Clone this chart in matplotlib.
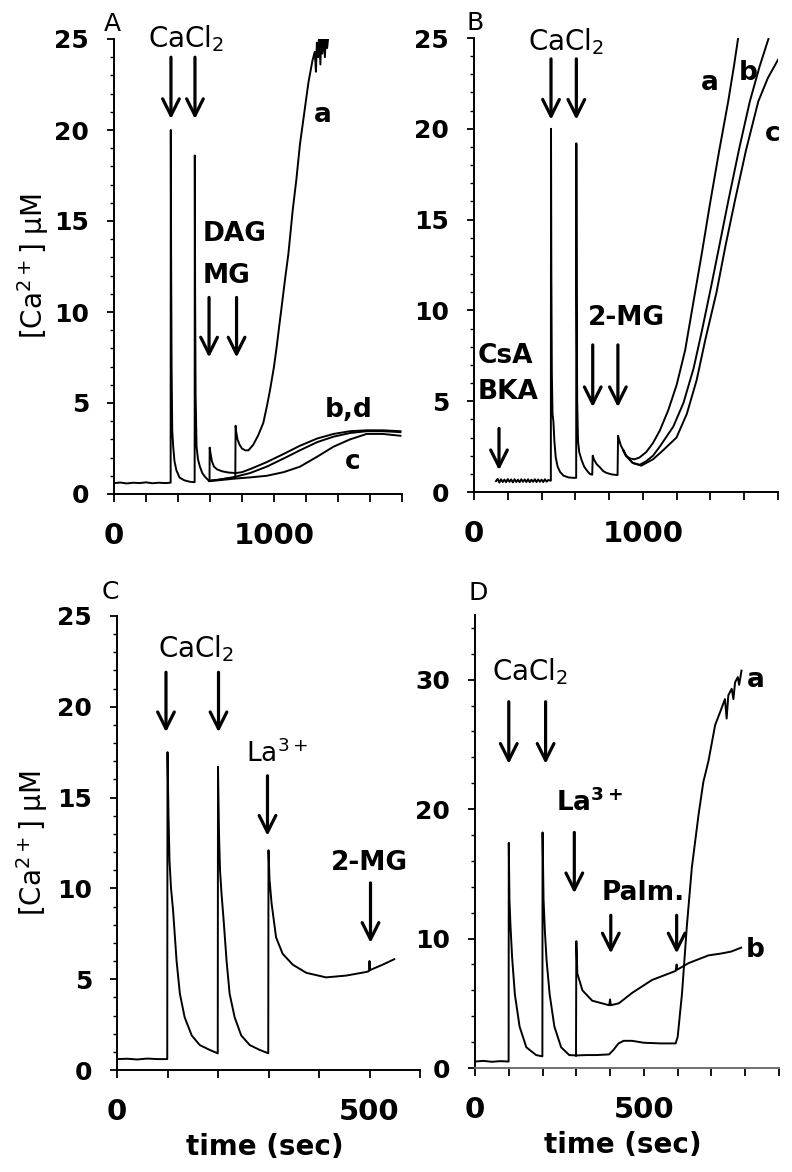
import matplotlib
matplotlib.use('Agg')
import matplotlib.pyplot as plt
from matplotlib.ticker import MultipleLocator

plt.rcParams['font.family'] = ['DejaVu Sans']
plt.rcParams['font.weight'] = 'bold'
plt.rcParams['mathtext.default'] = 'regular'

# ---------------- Panel A data ----------------
A_t_common = [0, 40, 80, 120, 160, 200, 240, 280, 320, 354, 355, 357, 360, 364, 370, 378, 390, 410, 440, 475,
              504, 505, 507, 510, 516, 525, 537, 552, 568, 594]
A_v_common = [0.6, 0.63, 0.58, 0.62, 0.6, 0.64, 0.59, 0.62, 0.6, 0.62, 20.0, 13.0, 7.0, 3.5, 2.6, 1.8, 1.3, 0.9, 0.75, 0.67,
              0.65, 18.6, 11.0, 5.5, 2.6, 1.9, 1.5, 1.15, 0.95, 0.72]
A_a_t = [650, 700, 758, 760, 764, 772, 785, 800, 820, 840, 870, 900, 933, 955, 975, 1000, 1017, 1035, 1048, 1069,
         1090, 1117, 1140, 1162, 1190, 1215, 1240, 1255, 1262, 1268, 1275, 1282, 1290, 1296, 1302, 1310, 1318, 1325, 1332, 1340]
A_a_v = [0.78, 0.85, 0.9, 3.75, 3.4, 3.0, 2.7, 2.5, 2.4, 2.4, 2.7, 3.2, 3.9, 4.8, 5.7, 7.0, 8.1, 9.4, 10.3, 11.8,
         13.2, 15.6, 17.3, 19.2, 21.0, 22.6, 23.8, 24.3, 23.2, 24.8, 24.0, 25.2, 23.6, 25.3, 24.2, 25.3, 24.0, 25.3, 24.5, 25.2]
A_b_t = [650, 700, 760, 850, 954, 1060, 1162, 1270, 1372, 1475, 1579, 1680, 1790]
A_b_v = [0.78, 0.85, 0.95, 1.15, 1.5, 1.95, 2.4, 2.85, 3.15, 3.35, 3.45, 3.45, 3.4]
A_c_t = [650, 760, 860, 954, 1060, 1162, 1270, 1372, 1475, 1579, 1680, 1790]
A_c_v = [0.75, 0.85, 0.92, 1.0, 1.2, 1.5, 2.05, 2.6, 3.0, 3.3, 3.3, 3.2]
A_d_t = [597, 598, 604, 612, 625, 645, 675, 715, 760, 800, 860, 954, 1060, 1162, 1270, 1372, 1475, 1579, 1680, 1790]
A_d_v = [0.7, 2.55, 2.2, 1.8, 1.5, 1.35, 1.25, 1.18, 1.15, 1.2, 1.4, 1.75, 2.2, 2.65, 3.05, 3.3, 3.45, 3.5, 3.5, 3.45]

# ---------------- Panel B data ----------------
B_t_common = [130, 140, 150, 160, 170, 180, 190, 200, 210, 220, 230, 240, 250, 260, 270, 280, 290, 300, 310, 320,
              330, 340, 350, 360, 370, 380, 390, 400, 410, 420, 430, 440, 455,
              456, 458, 461, 465, 470, 476, 484, 495, 510, 530, 560, 590, 605, 606, 608, 611, 616, 623, 637, 652,
              667, 685, 700, 703, 710, 725, 746, 765, 785, 815, 850, 853, 860, 870, 884]
B_v_common = [0.6, 0.72, 0.52, 0.7, 0.55, 0.68, 0.54, 0.71, 0.56, 0.69, 0.53, 0.7, 0.55, 0.68, 0.54, 0.7, 0.56, 0.69,
              0.55, 0.7, 0.54, 0.68, 0.56, 0.7, 0.55, 0.69, 0.56, 0.68, 0.55, 0.7, 0.57, 0.66, 0.62,
              20.0, 12.0, 6.5, 4.3, 3.9, 2.8, 1.9, 1.4, 1.1, 0.9, 0.8, 0.78, 0.78, 19.2, 11.0, 5.0, 2.8, 2.2, 1.76, 1.4,
              1.2, 1.0, 0.95, 2.0, 1.8, 1.55, 1.35, 1.15, 1.05, 0.97, 0.93, 3.1, 2.85, 2.55, 2.3]
B_a_t = [900, 923, 950, 980, 1020, 1060, 1101, 1150, 1200, 1250, 1298, 1350, 1396, 1450, 1505, 1540, 1564]
B_a_v = [2.0, 1.85, 1.8, 1.9, 2.2, 2.7, 3.4, 4.5, 5.9, 7.8, 10.4, 13.2, 15.8, 18.7, 21.5, 23.5, 25.0]
B_b_t = [900, 940, 982, 1020, 1060, 1100, 1180, 1240, 1300, 1350, 1406, 1460, 1505, 1570, 1633, 1690, 1745]
B_b_v = [2.0, 1.6, 1.5, 1.7, 2.0, 2.5, 3.6, 4.9, 6.8, 8.9, 11.4, 13.9, 16.0, 18.9, 21.5, 23.4, 25.0]
B_c_t = [900, 940, 990, 1060, 1120, 1199, 1260, 1318, 1370, 1436, 1490, 1544, 1610, 1683, 1740, 1800]
B_c_v = [2.0, 1.6, 1.45, 1.8, 2.3, 3.0, 4.3, 6.15, 8.4, 11.0, 13.6, 16.0, 18.8, 21.5, 22.8, 23.8]

# ---------------- Panel C data ----------------
C_t = [0, 20, 40, 60, 80, 99.5, 100, 102, 104, 107, 111, 118, 124.5, 134, 148, 164, 184, 199.5, 200, 202,
       204, 207, 211, 217, 223, 233, 246, 263, 283, 299.5, 300, 302, 306, 315, 328, 348, 375, 414, 454, 494,
       499, 500, 501, 526, 549]
C_v = [0.6, 0.62, 0.58, 0.63, 0.6, 0.6, 17.5, 14.0, 11.5, 10.0, 8.8, 6.0, 4.2, 2.9, 1.9, 1.37, 1.1, 0.92, 16.7, 13.0,
       11.0, 9.7, 8.3, 6.0, 4.2, 2.9, 1.9, 1.37, 1.1, 0.92, 12.1, 10.5, 9.2, 7.3, 6.4, 5.8, 5.35, 5.1, 5.2, 5.4,
       5.45, 6.0, 5.5, 5.8, 6.1]

# ---------------- Panel D data ----------------
D_t_common = [0, 25, 50, 75, 99.5, 100, 102, 105, 110, 118, 132, 152, 181, 199.5, 200, 203, 207, 212, 221, 235,
              255, 279, 299]
D_v_common = [0.5, 0.55, 0.48, 0.53, 0.5, 17.4, 13.0, 11.0, 8.5, 5.7, 3.2, 1.6, 1.0, 0.9, 18.2, 13.0, 10.5, 8.3, 5.7, 3.2,
              1.6, 1.0, 0.97]
D_a_t = [330, 360, 397, 410, 425, 440, 465, 500, 550, 594, 600, 613, 627, 642, 662, 676, 691, 711, 730, 740,
         745, 750, 760, 765, 770, 778, 782, 789]
D_a_v = [1.0, 1.0, 1.05, 1.4, 1.9, 2.1, 2.1, 1.95, 1.9, 1.9, 2.4, 5.8, 10.9, 15.5, 19.6, 22.1, 23.7, 26.5, 27.8, 28.5,
         27.0, 28.8, 29.3, 28.5, 29.8, 30.2, 29.6, 30.7]
D_b_t = [300, 303, 318, 347, 397, 400, 402, 426, 465, 524, 594, 597, 599, 632, 691, 730, 759, 788]
D_b_v = [9.8, 7.3, 6.0, 5.2, 4.85, 5.3, 4.85, 5.0, 5.8, 6.8, 7.5, 8.0, 7.6, 8.1, 8.7, 8.85, 9.0, 9.3]

YLABEL = '[Ca$^{2+}$] \u03bcM'
XLABEL = 'time (sec)'

fig = plt.figure(figsize=(7.92, 11.72), dpi=100)
W, H = 792.0, 1172.0


def make_axes(x0, x1, ytop, ybot):
    return fig.add_axes([x0 / W, 1 - ybot / H, (x1 - x0) / W, (ybot - ytop) / H])


def style(ax, xlim, ylim, xmaj, xmin, ymaj, ymin):
    ax.set_xlim(*xlim)
    ax.set_ylim(*ylim)
    for s in ['top', 'right']:
        ax.spines[s].set_visible(False)
    for s in ['left', 'bottom']:
        ax.spines[s].set_linewidth(1.4)
    ax.xaxis.set_major_locator(MultipleLocator(xmaj))
    ax.xaxis.set_minor_locator(MultipleLocator(xmin))
    ax.yaxis.set_major_locator(MultipleLocator(ymaj))
    ax.yaxis.set_minor_locator(MultipleLocator(ymin))
    ax.tick_params(axis='x', which='both', direction='out', length=6, width=1.3)
    ax.tick_params(axis='x', which='major', labelsize=21, pad=14)
    ax.tick_params(axis='y', which='major', direction='out', length=5, width=1.3, labelsize=18, pad=13)
    ax.tick_params(axis='y', which='minor', direction='out', length=3, width=1.0)


def arrow(ax, t, v0, v1):
    ax.annotate('', xy=(t, v1), xytext=(t, v0),
                arrowprops=dict(arrowstyle='->,head_length=0.6,head_width=0.3', lw=2.3, color='black',
                                shrinkA=0, shrinkB=0, mutation_scale=20),
                annotation_clip=False)


LW = 1.4

# ---------- A ----------
axA = make_axes(114, 402, 39, 494)
style(axA, (0, 1800), (0, 25), 1000, 200, 5, 1)
axA.plot(A_t_common, A_v_common, color='black', lw=LW)
axA.plot([A_t_common[-1]] + A_a_t, [A_v_common[-1]] + A_a_v, color='black', lw=LW)
axA.plot([A_t_common[-1]] + A_b_t, [A_v_common[-1]] + A_b_v, color='black', lw=LW)
axA.plot([A_t_common[-1]] + A_c_t, [A_v_common[-1]] + A_c_v, color='black', lw=LW)
axA.plot([A_t_common[-1]] + A_d_t, [A_v_common[-1]] + A_d_v, color='black', lw=LW)
axA.text(-12, 25.8, 'A', fontsize=18, fontweight='normal', ha='center', va='center')
axA.text(453, 25.0, 'CaCl$_2$', fontsize=20, fontweight='normal', ha='center', va='center')
arrow(axA, 356, 24.0, 20.6)
arrow(axA, 506, 24.0, 20.6)
axA.text(556, 14.3, 'DAG', fontsize=19, ha='left', va='center')
axA.text(556, 12.0, 'MG', fontsize=19, ha='left', va='center')
arrow(axA, 594, 10.8, 7.5)
arrow(axA, 766, 10.8, 7.5)
axA.text(1306, 20.8, 'a', fontsize=19, ha='center', va='center')
axA.text(1319, 4.6, 'b,d', fontsize=19, ha='left', va='center')
axA.text(1494, 1.75, 'c', fontsize=19, ha='center', va='center')
axA.text(-0.28, 0.5, YLABEL, transform=axA.transAxes, rotation=90, fontsize=20, fontweight='normal',
         ha='center', va='center')

# ---------- B ----------
axB = make_axes(474, 778, 38, 492)
style(axB, (0, 1800), (0, 25), 1000, 200, 5, 1)
axB.plot(B_t_common, B_v_common, color='black', lw=LW)
axB.plot([B_t_common[-1]] + B_a_t, [B_v_common[-1]] + B_a_v, color='black', lw=LW)
axB.plot([B_t_common[-1]] + B_b_t, [B_v_common[-1]] + B_b_v, color='black', lw=LW)
axB.plot([B_t_common[-1]] + B_c_t, [B_v_common[-1]] + B_c_v, color='black', lw=LW)
axB.text(6, 25.8, 'B', fontsize=18, fontweight='normal', ha='center', va='center')
axB.text(545, 24.8, 'CaCl$_2$', fontsize=20, fontweight='normal', ha='center', va='center')
arrow(axB, 456, 23.85, 20.5)
arrow(axB, 606, 23.85, 20.5)
axB.text(24, 7.5, 'CsA', fontsize=19, ha='left', va='center')
axB.text(24, 5.5, 'BKA', fontsize=19, ha='left', va='center')
arrow(axB, 148, 3.5, 1.2)
axB.text(905, 9.56, '2-MG', fontsize=19, ha='center', va='center')
arrow(axB, 703, 8.1, 4.67)
arrow(axB, 852, 8.1, 4.67)
axB.text(1396, 22.5, 'a', fontsize=19, ha='center', va='center')
axB.text(1621, 23.1, 'b', fontsize=19, ha='center', va='center')
axB.text(1769, 19.7, 'c', fontsize=19, ha='center', va='center')

# ---------- C ----------
axC = make_axes(117, 420, 616, 1070)
style(axC, (0, 600), (0, 25), 500, 100, 5, 1)
axC.plot(C_t, C_v, color='black', lw=LW)
axC.text(-14, 26.3, 'C', fontsize=18, fontweight='normal', ha='center', va='center')
axC.text(157, 23.2, 'CaCl$_2$', fontsize=20, fontweight='normal', ha='center', va='center')
arrow(axC, 97, 21.9, 18.6)
arrow(axC, 201, 21.9, 18.6)
axC.text(317, 17.4, 'La$^{3+}$', fontsize=19, fontweight='normal', ha='center', va='center')
arrow(axC, 298, 16.2, 12.9)
axC.text(500, 11.4, '2-MG', fontsize=19, ha='center', va='center')
arrow(axC, 502, 10.3, 7.0)
axC.text(-0.28, 0.5, YLABEL, transform=axC.transAxes, rotation=90, fontsize=20, fontweight='normal',
         ha='center', va='center')
axC.text(0.488, -0.17, XLABEL, transform=axC.transAxes, fontsize=20, ha='center', va='center')

# ---------- D ----------
axD = make_axes(475, 779, 615, 1068)
style(axD, (0, 900), (0, 35), 500, 100, 10, 2)
axD.spines['bottom'].set_color('#707070')
axD.plot(D_t_common, D_v_common, color='black', lw=LW)
axD.plot([D_t_common[-1]] + D_a_t, [D_v_common[-1]] + D_a_v, color='black', lw=LW)
axD.plot([D_t_common[-1]] + D_b_t, [D_v_common[-1]] + D_b_v, color='black', lw=LW)
axD.text(9, 36.7, 'D', fontsize=18, fontweight='normal', ha='center', va='center')
axD.text(162, 30.6, 'CaCl$_2$', fontsize=20, fontweight='normal', ha='center', va='center')
arrow(axD, 100, 28.3, 23.5)
arrow(axD, 209, 28.3, 23.5)
axD.text(338, 20.5, 'La$^{3+}$', fontsize=19, ha='center', va='center')
arrow(axD, 294, 18.2, 13.5)
axD.text(497, 13.5, 'Palm.', fontsize=19, ha='center', va='center')
arrow(axD, 402, 11.8, 8.85)
arrow(axD, 597, 11.8, 8.85)
axD.text(832, 30.0, 'a', fontsize=19, ha='center', va='center')
axD.text(829, 9.1, 'b', fontsize=19, ha='center', va='center')
axD.text(0.487, -0.17, XLABEL, transform=axD.transAxes, fontsize=20, ha='center', va='center')

fig.savefig('out.png', dpi=100)
